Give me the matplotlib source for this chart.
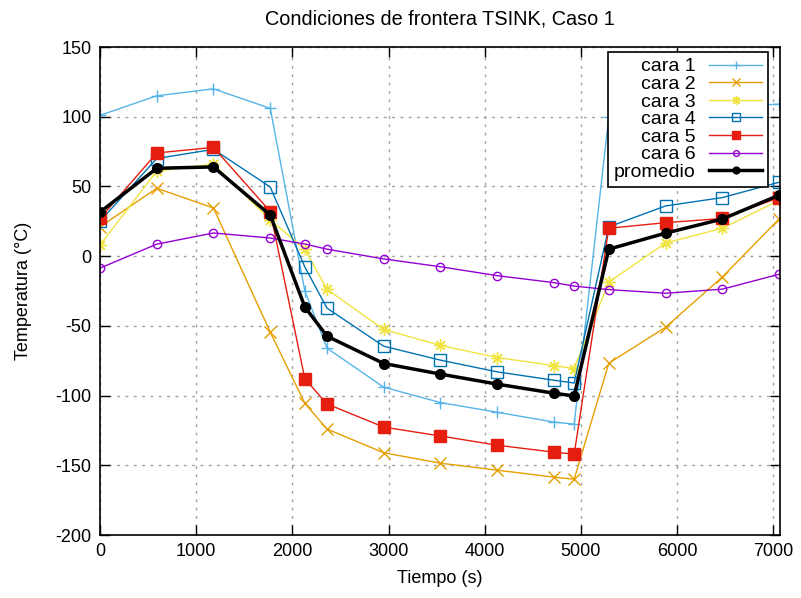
import numpy as np
import matplotlib
matplotlib.use("Agg")
import matplotlib.pyplot as plt

# datos
tiempo = [0, 590, 1180, 1770, 2130, 2360, 2950, 3540, 4130, 4720, 4930,
          5290, 5880, 6470, 7060]
cara1 = [101, 115, 120, 106, -25, -66, -94, -105, -112, -119, -120.5,
         100, 104, 107, 109]
cara2 = [21, 48.7, 34.5, -54.5, -105.6, -124, -141, -148.5, -153.5, -158.5,
         -160, -76.8, -51, -15, 26.6]
cara3 = [8, 61, 66, 26, 5, -23.8, -52.6, -64, -72.7, -78.5, -80.6,
         -18.6, 9.4, 20, 40]
cara4 = [25, 70, 76.6, 49.6, -7.8, -37.3, -64.6, -74.6, -83, -89, -91,
         21, 36, 42, 53]
cara5 = [27, 74, 78, 32, -88, -106, -122.6, -129, -135.6, -140.6, -142,
         20, 24, 27, 42]
cara6 = [-8.6, 8.6, 16.6, 13, 8.7, 5, -2, -7.6, -14, -19, -21.5,
         -24, -26.6, -23.7, -13]
promedio = [31.6, 63, 64, 29.5, -36.5, -57.4, -77, -84.6, -91.8, -98.3,
            -100.3, 5, 16.5, 26.6, 43.7]

plt.rcParams['font.family'] = ['Liberation Sans', 'DejaVu Sans']
plt.rcParams['font.size'] = 13
plt.rcParams['axes.unicode_minus'] = False

fig = plt.figure(figsize=(8.01, 5.98), dpi=100)
ax = fig.add_axes([100 / 801, 63 / 598, 680 / 801, 488 / 598])

ax.plot(tiempo, cara1, color='#56b4e9', lw=1, marker='+', ms=9, mew=1,
        label='cara 1')
ax.plot(tiempo, cara2, color='#e69f00', lw=1, marker='x', ms=8, mew=1,
        label='cara 2')
ax.plot(tiempo, cara3, color='#f0e442', lw=1, marker=(8, 2, 0), ms=9,
        mew=1, label='cara 3')
ax.plot(tiempo, cara4, color='#0072b2', lw=1, marker='s', ms=8, mew=1,
        mfc='none', label='cara 4')
ax.plot(tiempo, cara5, color='#e51e10', lw=1, marker='s', ms=8.5, mew=1,
        label='cara 5')
ax.plot(tiempo, cara6, color='#9400d3', lw=1, marker='o', ms=6, mew=1,
        mfc='none', label='cara 6')
ax.plot(tiempo, promedio, color='black', lw=2.5, marker='o', ms=7,
        label='promedio')

ax.set_xlim(0, 7070)
ax.set_ylim(-200, 150)
ax.set_xticks(np.arange(0, 7001, 1000))
ax.set_yticks(np.arange(-200, 151, 50))
ax.tick_params(direction='in', length=7, width=1, top=True, right=True,
               labelsize=13, pad=6)
ax.grid(True, ls=(0, (2, 4)), lw=1, color='#a0a0a0')
for s in ax.spines.values():
    s.set_linewidth(1.2)

ax.set_title('Condiciones de frontera TSINK, Caso 1', fontsize=14.3, pad=16)
ax.set_xlabel('Tiempo (s)', fontsize=13, labelpad=7)
ax.set_ylabel('Temperatura (°C)', fontsize=13, labelpad=17)

# texto a la izquierda y muestra a la derecha, como en gnuplot
leg = ax.legend(loc='upper right', bbox_to_anchor=(0.982, 0.99),
                borderaxespad=0, fancybox=False, framealpha=1,
                edgecolor='black', fontsize=14, labelspacing=0.0,
                markerfirst=False, handlelength=2.7, borderpad=0.3,
                handletextpad=0.7, markerscale=0.7)
leg.get_frame().set_linewidth(1.2)

fig.savefig('out.png', dpi=100)
